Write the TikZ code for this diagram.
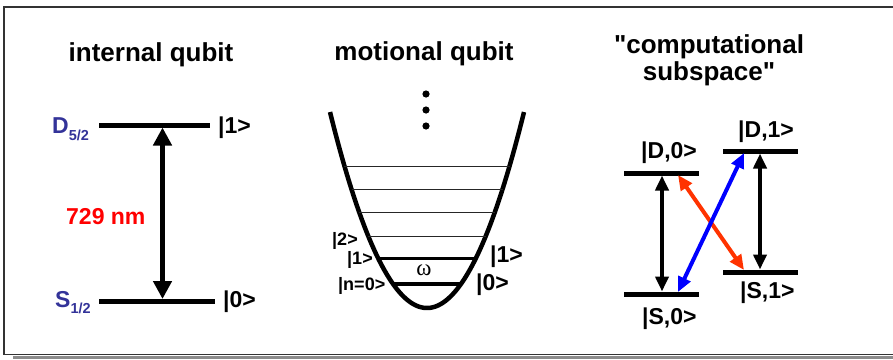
\documentclass[tikz,border=0pt]{standalone}
\usepackage{fontspec}
\setmainfont{Liberation Sans}
\newfontfamily\serifgr{Liberation Serif}
\newfontfamily\quotefont{Liberation Sans}
\usetikzlibrary{arrows.meta}
\definecolor{lvlblue}{HTML}{333399}
\definecolor{lred}{HTML}{FF0000}
\definecolor{xred}{HTML}{FF3300}
\definecolor{xblue}{HTML}{0000FF}
\newcommand{\sq}{{\quotefont\bfseries "}}
\begin{document}
\begin{tikzpicture}[x=1pt,y=-1pt,
  title/.style={font=\fontsize{26}{27}\selectfont\bfseries, align=center, inner sep=0pt, anchor=base},
  lbl/.style={font=\fontsize{23}{26}\selectfont\bfseries, inner sep=0pt, anchor=base west},
  smalllbl/.style={font=\fontsize{18}{20}\selectfont\bfseries, inner sep=0pt, anchor=base west},
  level/.style={line width=5pt},
  thinlevel/.style={line width=1pt, black!85},
  motlevel/.style={line width=3.5pt},
  bigtrans/.style={line width=5.5pt, {Triangle[width=18pt,length=18pt]}-{Triangle[width=18pt,length=18pt]}},
  trans/.style={line width=4pt, {Triangle[width=13pt,length=15pt]}-{Triangle[width=13pt,length=15pt]}},
  framel/.style={line width=1.5pt, black!80}
]
\useasboundingbox (0,0) rectangle (893,359);
% frame
\fill[gray!90] (13,355.5) rectangle (893,359);
\draw[framel] (893,7) -- (4,7) -- (4,354.5) -- (893,354.5);

% ---------------- internal qubit
\node[title] (t1) at (151,61) {internal qubit};
\coordinate (d1) at (99,125); \coordinate (d2) at (210,125);
\coordinate (s1) at (99,301.5); \coordinate (s2) at (215,301.5);
\draw[level] (d1) -- (d2);
\draw[level] (s1) -- (s2);
\coordinate (atop) at (162.5,127.5); \coordinate (abot) at (162.5,299);
\draw[bigtrans] (atop) -- (abot);
\node[lbl, text=lvlblue] (dlab) at (52,133) {D\raisebox{-7.5pt}{\fontsize{14.5}{16}\selectfont 5/2}};
\node[lbl, text=lvlblue] (slab) at (55,307) {S\raisebox{-6.5pt}{\fontsize{14.5}{16}\selectfont 1/2}};
\node[lbl] (k1) at (218,133) {|1>};
\node[lbl] (k0) at (223,307) {|0>};
\node[lbl, text=lred] (nm) at (66,224) {729 nm};

% ---------------- motional qubit
\node[title] (t2) at (424,60) {motional qubit};
\foreach \yy/\nm in {94/da,110/db,126/dc}{
  \fill (426,\yy) circle (3.6pt);
}
\draw[line width=4.5pt] plot[domain=-97:97, samples=80] ({427+\x},{308-0.02083*\x*\x});
\draw[thinlevel] (344.4,166) -- (509.6,166);
\draw[thinlevel] (351.5,189.3) -- (502.5,189.3);
\draw[thinlevel] (359.4,212.7) -- (494.6,212.7);
\draw[thinlevel] (368.2,236) -- (485.8,236);
\draw[motlevel] (378.3,258.5) -- (475.7,258.5);
\draw[motlevel] (393.1,284) -- (460.9,284);
\node[smalllbl] (m2) at (332,245) {|2>};
\node[smalllbl] (m1) at (347,264) {|1>};
\node[smalllbl] (m0) at (338,290) {|n=0>};
\node[font=\serifgr\fontsize{23}{24}\selectfont, inner sep=0pt] (om) at (424,270) {ω};
\node[lbl] (mr1) at (490,262) {|1>};
\node[lbl] (mr0) at (476,290) {|0>};

% ---------------- computational subspace
\node[title] (t3) at (709,80) {\sq computational\\subspace\sq};
\coordinate (D0a) at (624,173); \coordinate (D0b) at (699,173);
\coordinate (S0a) at (624,294); \coordinate (S0b) at (699,294);
\coordinate (D1a) at (723,151); \coordinate (D1b) at (798,151);
\coordinate (S1a) at (723,272); \coordinate (S1b) at (798,272);
\draw[level] (D0a) -- (D0b);
\draw[level] (S0a) -- (S0b);
\draw[level] (D1a) -- (D1b);
\draw[level] (S1a) -- (S1b);
\coordinate (l0t) at (662,175.5); \coordinate (l0b) at (662,291.5);
\coordinate (l1t) at (760,153.5); \coordinate (l1b) at (760,269.5);
\draw[trans] (l0t) -- (l0b);
\draw[trans] (l1t) -- (l1b);
\coordinate (bS0) at (678,292); \coordinate (bD1) at (744,153);
\coordinate (rD0) at (678,175); \coordinate (rS1) at (744,270);
\draw[trans, xred] (rD0) -- (rS1);
\draw[trans, xblue] (bS0) -- (bD1);
\node[lbl] (cD0) at (641,158) {|D,0>};
\node[lbl] (cD1) at (738,137) {|D,1>};
\node[lbl] (cS0) at (642,324) {|S,0>};
\node[lbl] (cS1) at (740,298) {|S,1>};
\end{tikzpicture}
\end{document}
